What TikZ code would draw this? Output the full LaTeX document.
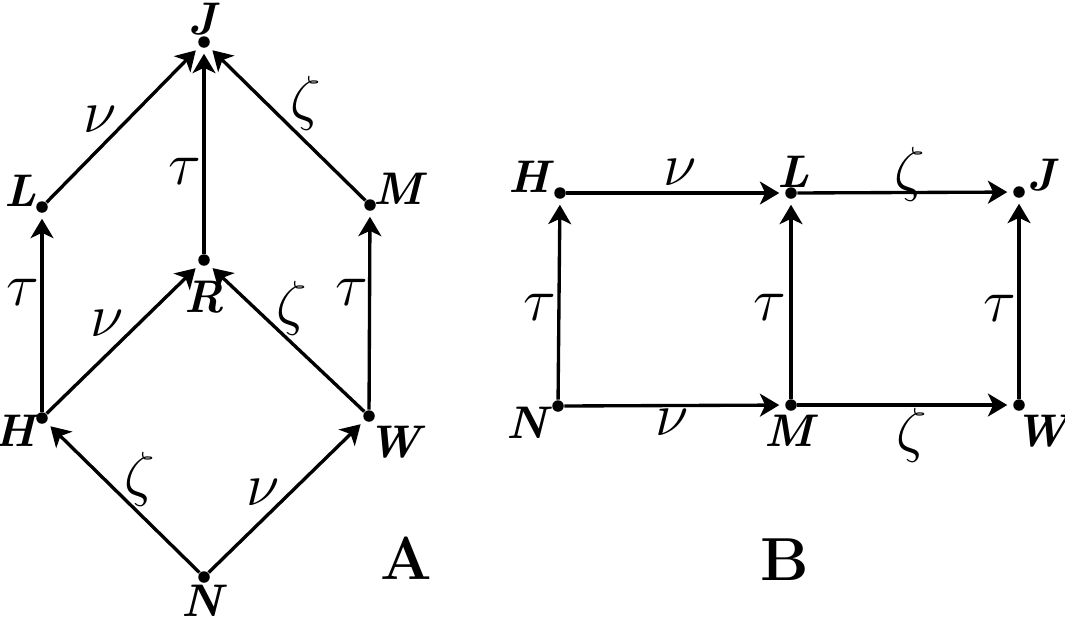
\documentclass[tikz,border=0pt]{standalone}
\usetikzlibrary{arrows.meta}
\newcommand{\vx}[1]{\textbf{\textit{#1}}}
\begin{document}
\begin{tikzpicture}
    [x=0.01cm,y=-0.01cm,
    dot/.style={circle,fill,inner sep=0pt,minimum size=0.115cm},
    arr/.style={line width=0.95pt,-{Stealth[length=5.5pt,width=6.5pt,inset=1.5pt]},shorten >=1.5pt},
    gr/.style={font=\LARGE,inner sep=0pt},
    every label/.style={font=\fontsize{13}{15}\selectfont,inner sep=0pt}]
    \useasboundingbox (0,0) rectangle (1065,620);
    % A
    \node[dot,label={[yshift=0.23cm]center:\vx{J}}] (aJ) at (204,42) {};
    \node[dot,label={[xshift=-0.22cm,yshift=0.16cm]center:\vx{L}}] (aL) at (42,207) {};
    \node[dot,label={[xshift=0.3cm,yshift=0.16cm]center:\vx{M}}] (aM) at (370,205) {};
    \node[dot,label={[yshift=-0.37cm]center:\vx{R}}] (aR) at (204,260) {};
    \node[dot,label={[xshift=-0.25cm,yshift=-0.13cm]center:\vx{H}}] (aH) at (42,418) {};
    \node[dot,label={[xshift=0.28cm,yshift=-0.26cm]center:\vx{W}}] (aW) at (369,416) {};
    \node[dot,label={[yshift=-0.24cm]center:\vx{N}}] (aN) at (204,577) {};
    \draw[arr] (aN) -- node[gr,xshift=0.17cm,yshift=0.18cm] {$\zeta$} (aH);
    \draw[arr] (aN) -- node[gr,xshift=-0.23cm,yshift=0.04cm] {$\nu$} (aW);
    \draw[arr] (aH) -- node[gr,xshift=-0.19cm,yshift=0.2cm] {$\tau$} (aL);
    \draw[arr] (aH) -- node[gr,xshift=-0.16cm,yshift=0.16cm] {$\nu$} (aR);
    \draw[arr] (aW) -- node[gr,xshift=0.05cm,yshift=0.3cm] {$\zeta$} (aR);
    \draw[arr] (aW) -- node[gr,xshift=-0.18cm,yshift=0.18cm] {$\tau$} (aM);
    \draw[arr] (aL) -- node[gr,xshift=-0.23cm,yshift=0.05cm] {$\nu$} (aJ);
    \draw[arr] (aR) -- node[gr,xshift=-0.19cm,yshift=-0.2cm] {$\tau$} (aJ);
    \draw[arr] (aM) -- node[gr,xshift=0.19cm,yshift=0.2cm] {$\zeta$} (aJ);
    \node[font=\LARGE] (A) at (406,558) {\textbf{A}};
    % B
    \node[dot,label={[xshift=-0.29cm,yshift=0.16cm]center:\vx{H}}] (bH) at (560,193) {};
    \node[dot,label={[xshift=0.02cm,yshift=0.21cm]center:\vx{L}}] (bL) at (791,193) {};
    \node[dot,label={[xshift=0.24cm,yshift=0.17cm]center:\vx{J}}] (bJ) at (1019,192) {};
    \node[dot,label={[xshift=-0.29cm,yshift=-0.17cm]center:\vx{N}}] (bN) at (558,406) {};
    \node[dot,label={[yshift=-0.26cm]center:\vx{M}}] (bM) at (791,405) {};
    \node[dot,label={[xshift=0.25cm,yshift=-0.26cm]center:\vx{W}}] (bW) at (1019,405) {};
    \draw[arr] (bN) -- node[gr,xshift=-0.19cm,yshift=-0.08cm] {$\tau$} (bH);
    \draw[arr] (bM) -- node[gr,xshift=-0.21cm,yshift=-0.08cm] {$\tau$} (bL);
    \draw[arr] (bW) -- node[gr,xshift=-0.19cm,yshift=-0.1cm] {$\tau$} (bJ);
    \draw[arr] (bH) -- node[gr,xshift=0.045cm,yshift=0.21cm] {$\nu$} (bL);
    \draw[arr] (bL) -- node[gr,xshift=0.05cm,yshift=0.18cm] {$\zeta$} (bJ);
    \draw[arr] (bN) -- node[gr,xshift=-0.02cm,yshift=-0.17cm] {$\nu$} (bM);
    \draw[arr] (bM) -- node[gr,xshift=0.07cm,yshift=-0.3cm] {$\zeta$} (bW);
    \node[font=\LARGE] (B) at (785,560) {\textbf{B}};
\end{tikzpicture}
\end{document}
